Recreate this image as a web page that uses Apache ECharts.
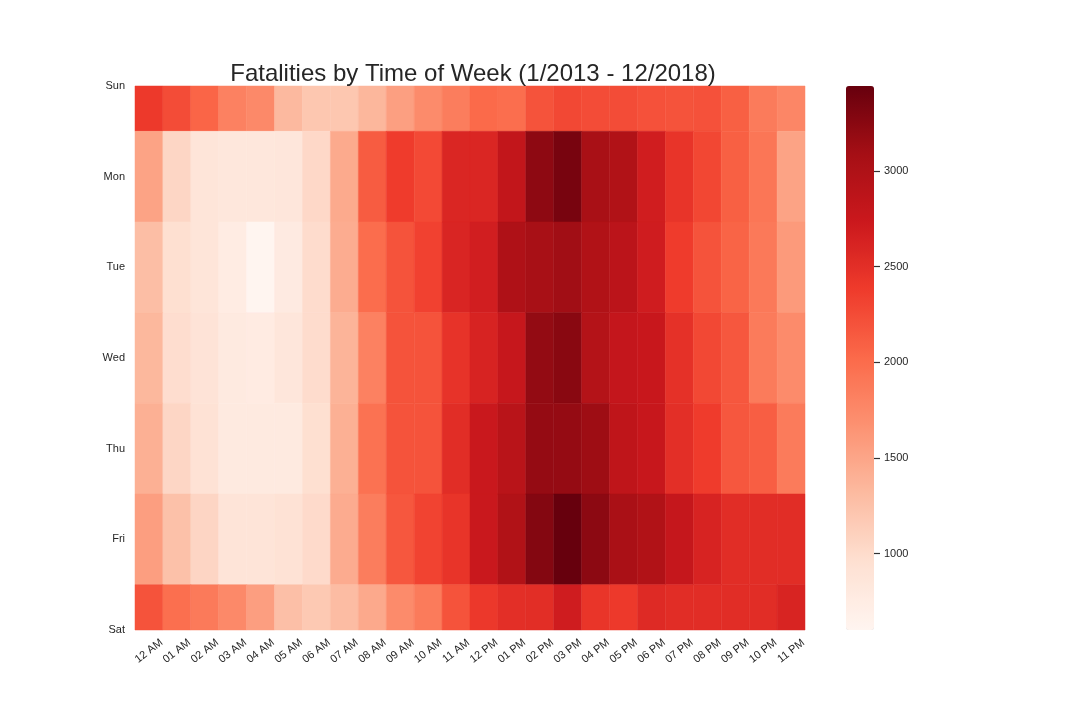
<!DOCTYPE html>
<html>
<head>
<meta charset="utf-8">
<script src="https://cdn.jsdelivr.net/npm/echarts@6/dist/echarts.min.js"></script>
<style>
  html, body { margin: 0; padding: 0; background: #fff; }
  #chart { width: 1080px; height: 720px; }
</style>
</head>
<body>
<div id="chart"></div>
<script>
var days = ['Sun', 'Mon', 'Tue', 'Wed', 'Thu', 'Fri', 'Sat'];
var hours = ['12 AM', '01 AM', '02 AM', '03 AM', '04 AM', '05 AM', '06 AM', '07 AM', '08 AM', '09 AM', '10 AM', '11 AM',
             '12 PM', '01 PM', '02 PM', '03 PM', '04 PM', '05 PM', '06 PM', '07 PM', '08 PM', '09 PM', '10 PM', '11 PM'];

// fatalities per hour, one array per weekday
var sun = [2400, 2250, 2060, 1820, 1750, 1330, 1200, 1200, 1350, 1550, 1730, 1850, 2020, 1990, 2200, 2280, 2250, 2250, 2210, 2200, 2210, 2100, 1870, 1770];
var mon = [1520, 1050, 870, 840, 840, 850, 1030, 1460, 2130, 2380, 2270, 2590, 2590, 2820, 3220, 3350, 3050, 2980, 2680, 2450, 2290, 2100, 1920, 1520];
var tue = [1280, 960, 870, 760, 600, 780, 990, 1440, 2000, 2200, 2330, 2600, 2670, 3000, 3060, 3110, 2980, 2880, 2690, 2380, 2200, 2070, 1890, 1600];
var wed = [1340, 980, 900, 790, 770, 850, 990, 1370, 1820, 2200, 2200, 2460, 2620, 2780, 3190, 3250, 2950, 2800, 2760, 2480, 2280, 2170, 1870, 1730];
var thu = [1410, 1050, 920, 790, 790, 790, 960, 1410, 1950, 2200, 2200, 2520, 2750, 2900, 3180, 3180, 3130, 2850, 2770, 2500, 2380, 2170, 2110, 1870];
var fri = [1560, 1250, 1060, 890, 890, 920, 1010, 1450, 1850, 2170, 2320, 2450, 2750, 2980, 3280, 3445, 3230, 3040, 2980, 2790, 2620, 2520, 2520, 2520];
var sat = [2200, 1980, 1880, 1750, 1560, 1270, 1180, 1300, 1470, 1730, 1870, 2200, 2410, 2500, 2510, 2690, 2440, 2400, 2550, 2520, 2520, 2520, 2520, 2610];

var colorbarTicks = [1000, 1500, 2000, 2500, 3000];
var reds = ['#fff5f0', '#fee0d2', '#fcbba1', '#fc9272', '#fb6a4a', '#ef3b2c', '#cb181d', '#a50f15', '#67000d'];

var rows = [sun, mon, tue, wed, thu, fri, sat];
var cells = [];
for (var d = 0; d < rows.length; d++) {
    for (var h = 0; h < hours.length; h++) {
        cells.push([h, d, rows[d][h]]);
    }
}
var vmin = Math.min.apply(null, cells.map(function (c) { return c[2]; }));
var vmax = Math.max.apply(null, cells.map(function (c) { return c[2]; }));

var textColor = '#262626';
var font = 'Liberation Sans';

function renderCell(params, api) {
    var c = api.coord([api.value(0), api.value(1)]);
    var s = api.size([1, 1]);
    var rect = echarts.graphic.clipRectByRect({
        x: c[0] - s[0] / 2, y: c[1] - s[1] / 2, width: s[0], height: s[1]
    }, {
        x: params.coordSys.x, y: params.coordSys.y,
        width: params.coordSys.width, height: params.coordSys.height
    });
    var col = api.visual('color');
    return rect && {
        type: 'rect',
        shape: rect,
        style: { fill: col, stroke: col, lineWidth: 0.5 }
    };
}

var myChart = echarts.init(document.getElementById('chart'));
var option = {
    backgroundColor: '#fff',
    animation: false,
    textStyle: { fontFamily: font, color: textColor },
    title: {
        text: 'Fatalities by Time of Week (1/2013 - 12/2018)',
        left: 468,
        textAlign: 'center',
        top: 57,
        textStyle: { fontFamily: font, fontSize: 24, fontWeight: 'normal', color: textColor }
    },
    grid: [
        { left: 135, top: 86, width: 670, height: 544 },
        { left: 846, top: 86, width: 28, height: 544 }
    ],
    xAxis: [
        {
            type: 'category',
            gridIndex: 0,
            data: hours,
            boundaryGap: true,
            axisLine: { show: false },
            axisTick: { show: false },
            splitLine: { show: false },
            axisLabel: {
                interval: 0,
                rotate: 38,
                align: 'center',
                verticalAlign: 'middle',
                margin: 21,
                fontSize: 11,
                color: textColor,
                fontFamily: font
            }
        },
        {
            type: 'value',
            gridIndex: 1,
            show: false
        }
    ],
    yAxis: [
        {
            type: 'value',
            gridIndex: 0,
            min: 0,
            max: 6,
            interval: 1,
            inverse: true,
            axisLine: { show: false },
            axisTick: { show: false },
            splitLine: { show: false },
            axisLabel: {
                showMinLabel: true,
                showMaxLabel: true,
                margin: 10,
                fontSize: 11,
                color: textColor,
                fontFamily: font,
                formatter: function (v) { return days[Math.round(v)] || ''; }
            }
        },
        {
            type: 'value',
            gridIndex: 1,
            position: 'right',
            z: 10,
            min: vmin,
            max: vmax,
            axisLine: { show: false, onZero: false },
            splitLine: { show: false },
            axisTick: {
                show: true,
                inside: false,
                length: 6,
                customValues: colorbarTicks,
                lineStyle: { color: '#333', width: 1.2 }
            },
            axisLabel: {
                customValues: colorbarTicks,
                margin: 10,
                fontSize: 11,
                color: textColor,
                fontFamily: font,
                formatter: function (v) { return String(v); }
            }
        }
    ],
    visualMap: {
        type: 'continuous',
        min: vmin,
        max: vmax,
        dimension: 2,
        seriesIndex: 0,
        calculable: false,
        orient: 'vertical',
        left: 846,
        top: 86,
        padding: 0,
        itemWidth: 28,
        itemHeight: 544,
        text: null,
        showLabel: false,
        inRange: { color: reds }
    },
    series: [
        {
            type: 'custom',
            xAxisIndex: 0,
            yAxisIndex: 0,
            renderItem: renderCell,
            encode: { x: 0, y: 1 },
            data: cells
        }
    ]
};
option && myChart.setOption(option);
</script>
</body>
</html>
